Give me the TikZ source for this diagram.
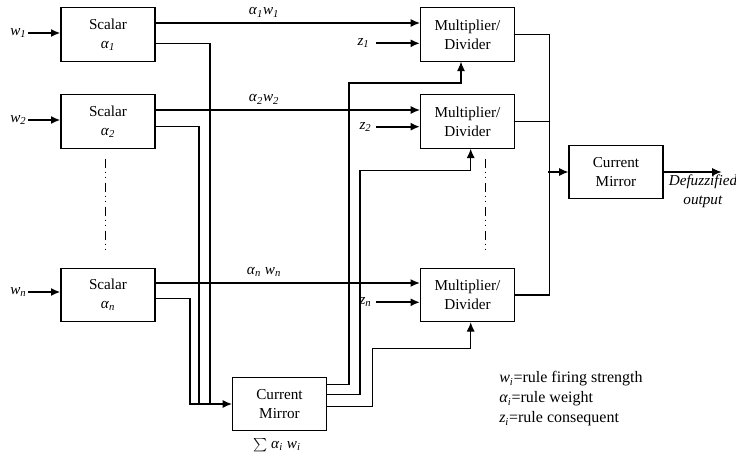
\documentclass[tikz,border=0pt]{standalone}
\usepackage{fontspec}
\setmainfont{Liberation Serif}
\usepackage{tikz}
\usetikzlibrary{calc,arrows.meta,positioning}
\newcommand{\vsub}[2]{\textit{#1}\textsubscript{\textit{#2}}}
\tikzset{
  ar/.style={-{Latex[length=7pt,width=6pt]},line width=1.4pt},
  ta/.style={-{Latex[length=7pt,width=6pt]},line width=0.8pt},
  ln/.style={line width=0.8pt},
  box/.style={draw,line width=0.8pt,minimum width=70.5pt,minimum height=40pt,align=center,inner sep=0pt,
    font=\fontsize{11.4}{14}\selectfont},
  lb/.style={inner sep=1pt,font=\fontsize{11.4}{14}\selectfont},
  dd/.style={line width=0.8pt,dash pattern=on 6.75pt off 3pt on 0.75pt off 3pt on 0.75pt off 3.75pt}
}

\begin{document}
\begin{tikzpicture}[x=0.75pt,y=-0.75pt]
\useasboundingbox (0,0) rectangle (736,456);
% scalar blocks
\node[box] (sc1) at (108,34.5) {Scalar\\\vsub{α}{1}};
\node[box] (sc2) at (108,121.5) {Scalar\\\vsub{α}{2}};
\node[box] (scn) at (108,295) {Scalar\\\vsub{α}{n}};
% multiplier / divider blocks
\node[box] (md1) at (467.5,34.5) {Multiplier/\\Divider};
\node[box] (md2) at (467.5,121.5) {Multiplier/\\Divider};
\node[box] (mdn) at (467.5,295) {Multiplier/\\Divider};
% current mirrors
\node[box] (cm) at (279.5,404) {Current\\Mirror};
\node[box] (cmo) at (616,172) {Current\\Mirror};
\node[lb] (sum) at (277,445) {$\sum$ \vsub{α}{i} \vsub{w}{i}};
% inputs
\node[lb,anchor=east] (w1) at (28,33) {\vsub{w}{1}};
\node[lb,anchor=east] (w2) at (28,120) {\vsub{w}{2}};
\node[lb,anchor=east] (wn) at (28,292) {\vsub{w}{n}};
\draw[ar] (w1.east) -- (w1.east -| sc1.west);
\draw[ar] (w2.east) -- (w2.east -| sc2.west);
\draw[ar] (wn.east) -- (wn.east -| scn.west);
\node[lb,anchor=east] (z1) at (371,43.3) {\vsub{z}{1}};
\node[lb,anchor=east] (z2) at (373,126.7) {\vsub{z}{2}};
\node[lb,anchor=east] (zn) at (373,302.3) {\vsub{z}{n}};
\draw[ar] ($(z1.east)+(5,0)$) -- (z1.east -| md1.west);
\draw[ar] ($(z2.east)+(3,0)$) -- (z2.east -| md2.west);
\draw[ar] ($(zn.east)+(3,0)$) -- (zn.east -| mdn.west);
% products
\draw[ta] ($(sc1.east)+(0,-11.5)$) -- ($(md1.west)+(0,-11.5)$) node[lb,pos=0.41,above=3pt]{\vsub{α}{1}\vsub{w}{1}};
\draw[ta] ($(sc2.east)+(0,-11.5)$) -- ($(md2.west)+(0,-11.5)$) node[lb,pos=0.41,above=3pt]{\vsub{α}{2}\vsub{w}{2}};
\draw[ta,line width=1.2pt] ($(scn.east)+(0,-12)$) -- ($(mdn.west)+(0,-12)$) node[lb,pos=0.41,above=3pt]{\vsub{α}{n} \vsub{w}{n}};
% weights to the summing mirror
\draw[ln] ($(sc1.east)+(0,8.6)$) -| ($(cm.west)+(-22,0)$);
\draw[ln] ($(sc2.east)+(0,5)$) -| ($(cm.west)+(-33,0)$);
\draw[ta] ($(scn.east)+(0,3.3)$) -| ($(cm.west)+(-42,0)$) -- (cm.west);
% mirror copies up to the dividers
\draw[ta] ($(cm.east)+(0,-19.7)$) -| ($(md1.south)+(-118.5,21.3)$) -| ($(md1.south)+(-6.5,0)$);
\draw[ta] ($(cm.east)+(0,-9.7)$) -| ($(md2.south)+(-107.5,22)$) -| ($(md2.south)+(3.2,0)$);
\draw[ta] ($(cm.east)+(0,2.7)$) -| ($(mdn.south)+(-94.8,26.3)$) -| ($(mdn.south)+(3.2,0)$);
% output bus
\draw[ln] (md1.east) -- ++(34,0) |- (mdn.east);
\draw[ln] (md2.east) -- ++(34,0);
\draw[ta] ($(cmo.west)+(-20,0)$) -- (cmo.west);
\draw[ta] (cmo.east) -- ++(58,0) coordinate (out);
\node[lb,align=center] (dfz) at (703,191) {\textit{Defuzzified}\\\textit{output}};
% ellipsis
\draw[dd] ($(sc2.south)+(-2.3,10)$) -- ++(0,96);
\draw[dd] ($(md2.south)+(18.2,10)$) -- ++(0,96);
% legend
\node[anchor=west,align=left,inner sep=0pt,font=\fontsize{12}{15}\selectfont] (leg) at (499,399)
  {\vsub{w}{i}=rule firing strength\\\vsub{α}{i}=rule weight\\\vsub{z}{i}=rule consequent};
\end{tikzpicture}
\end{document}
